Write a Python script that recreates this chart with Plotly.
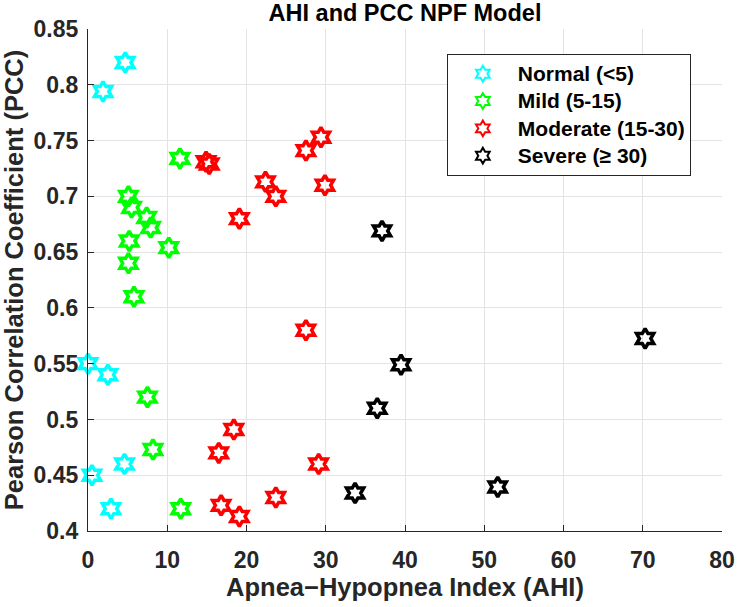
import plotly.graph_objects as go

# ---- data ----
normal_x = [4.7, 1.9, 0.0, 2.5, 0.5, 4.6, 2.9]
normal_y = [0.820, 0.794, 0.550, 0.540, 0.450, 0.460, 0.420]

mild_x = [5.1, 5.5, 7.4, 7.9, 5.2, 5.1, 10.2, 11.6, 5.8, 7.5, 8.2, 11.7]
mild_y = [0.700, 0.690, 0.681, 0.672, 0.660, 0.640, 0.654, 0.734, 0.610, 0.520, 0.473, 0.420]

moderate_x = [14.9, 15.3, 19.1, 22.4, 23.7, 27.5, 29.4, 29.9, 27.5, 18.4, 16.5, 29.1, 23.7, 16.8, 19.1]
moderate_y = [0.731, 0.729, 0.680, 0.713, 0.700, 0.741, 0.753, 0.710, 0.580, 0.491, 0.470, 0.460, 0.430, 0.423, 0.413]

severe_x = [37.1, 39.5, 36.5, 33.7, 51.7, 70.3]
severe_y = [0.669, 0.549, 0.510, 0.434, 0.4395, 0.5725]

series_names = ["Normal (<5)", "Mild (5-15)", "Moderate (15-30)", "Severe (\u2265 30)"]
series_colors = ["#00FFFF", "#00FF00", "#FF0000", "#000000"]

x_ticks = [0, 10, 20, 30, 40, 50, 60, 70, 80]
y_ticks = [0.4, 0.45, 0.5, 0.55, 0.6, 0.65, 0.7, 0.75, 0.8, 0.85]
y_tick_text = ["0.4", "0.45", "0.5", "0.55", "0.6", "0.65", "0.7", "0.75", "0.8", "0.85"]

FONT = "Liberation Sans, Arial, Helvetica, sans-serif"
AX = "#262626"

fig = go.Figure()
for xs, ys, name, col in zip([normal_x, mild_x, moderate_x, severe_x],
                             [normal_y, mild_y, moderate_y, severe_y],
                             series_names, series_colors):
    fig.add_trace(go.Scatter(
        x=xs, y=ys, mode="markers", cliponaxis=False,
        name="<span style='font-size:21px'>" + name + "</span>",
        marker=dict(symbol="hexagram-open", size=15, color=col,
                    line=dict(color=col, width=3.5)),
    ))

axis_common = dict(
    showgrid=True, gridcolor="#e3e3e3", gridwidth=1,
    showline=True, linecolor=AX, linewidth=1.2, mirror=False,
    ticks="inside", ticklen=6, tickcolor=AX, tickwidth=1,
    zeroline=False,
    tickfont=dict(family=FONT, size=23, color=AX, weight="bold"),
)

fig.update_xaxes(
    range=[0, 80], tickvals=x_ticks, ticktext=[str(v) for v in x_ticks],
    title=dict(text="Apnea\u2212Hypopnea Index (AHI)",
               font=dict(family=FONT, size=25.5, color=AX, weight="bold"), standoff=4),
    ticklabelstandoff=8,
    **axis_common,
)
fig.update_yaxes(
    range=[0.4, 0.85], tickvals=y_ticks, ticktext=y_tick_text,
    title=dict(text="Pearson Correlation Coefficient (PCC)",
               font=dict(family=FONT, size=25.5, color=AX, weight="bold"), standoff=4),
    ticklabelstandoff=4,
    **axis_common,
)

fig.update_layout(
    width=747, height=607,
    margin=dict(l=88, r=14, t=29, b=76),
    paper_bgcolor="white", plot_bgcolor="white",
    title=dict(text="AHI and PCC NPF Model", x=0.5, xanchor="center",
               y=0.979, yanchor="middle", xref="paper",
               font=dict(family=FONT, size=23.5, color="#000000", weight="bold")),
    legend=dict(
        x=0.566, y=0.95, xanchor="left", yanchor="top",
        bgcolor="white", bordercolor=AX, borderwidth=1,
        font=dict(family=FONT, size=18.7, color="#000000", weight="bold"),
        itemwidth=60, itemsizing="constant", tracegroupgap=0,
    ),
    showlegend=True,
)

fig.write_html("out.html")
